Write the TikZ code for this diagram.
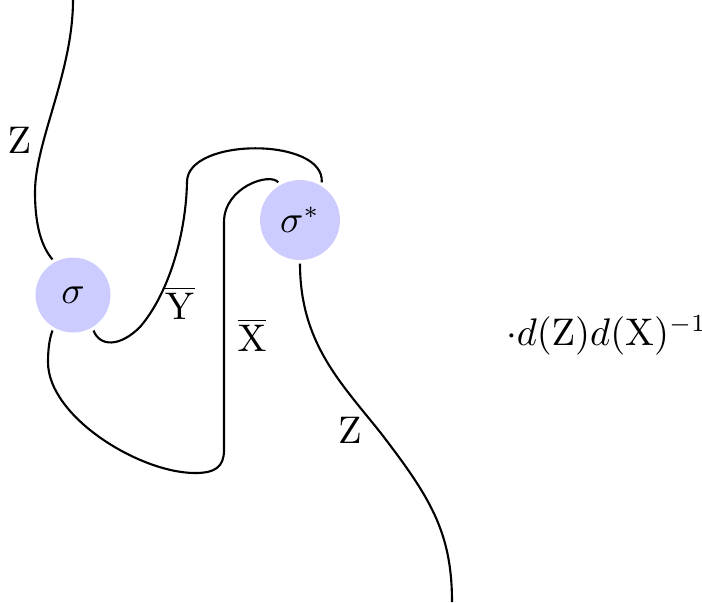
\documentclass[tikz,border=0pt]{standalone}
\begin{document}
\begin{tikzpicture}[semithick, font=\fontsize{10.5}{12}\selectfont,
  coupon/.style={circle, fill=blue!20, inner sep=0pt, outer sep=1pt},
  lbl/.style={inner sep=0pt}]
\useasboundingbox (0,0) rectangle (7.02,6.02);
\node[coupon, minimum size=0.75cm] (sig) at (0.73,3.07) {$\sigma$};
\node[coupon, minimum size=0.8cm] (sigs) at (3.00,3.82) {$\sigma^*$};
% top Z strand
\draw (0.73,6.02) .. controls (0.73,5.3) and (0.35,4.6) .. (0.35,4.1)
  .. controls (0.35,3.75) and (0.42,3.55) .. (sig.120);
% Y bar strand
\draw (sig.-60) .. controls (1.0,2.55) and (1.2,2.55) .. (1.4,2.75)
  .. controls (1.7,3.1) and (1.86,3.7) .. (1.87,4.2)
  .. controls (1.87,4.65) and (3.25,4.65) .. (sigs.60);
% X bar strand
\draw (sigs.120) .. controls (2.7,4.3) and (2.24,4.15) .. (2.24,3.8)
  -- (2.24,1.52) .. controls (2.24,1.35) and (2.15,1.29) .. (1.95,1.29)
  .. controls (1.4,1.29) and (0.48,1.85) .. (0.48,2.4)
  .. controls (0.48,2.55) and (0.5,2.65) .. (sig.-120);
% bottom Z strand
\draw (sigs.-90) .. controls (3.0,2.6) and (3.4,2.2) .. (3.8,1.7)
  .. controls (4.3,1.05) and (4.52,0.7) .. (4.52,0.0);
\node[lbl] (zt) at (0.195,4.62) {$\mathrm{Z}$};
\node[lbl] (yb) at (1.80,2.99) {$\overline{\mathrm{Y}}$};
\node[lbl] (xb) at (2.52,2.67) {$\overline{\mathrm{X}}$};
\node[lbl] (zb) at (3.50,1.72) {$\mathrm{Z}$};
\node[lbl, anchor=base west] (fac) at (5.05,2.57) {$\cdot d(\mathrm{Z})d(\mathrm{X})^{-1}$};
\end{tikzpicture}
\end{document}
